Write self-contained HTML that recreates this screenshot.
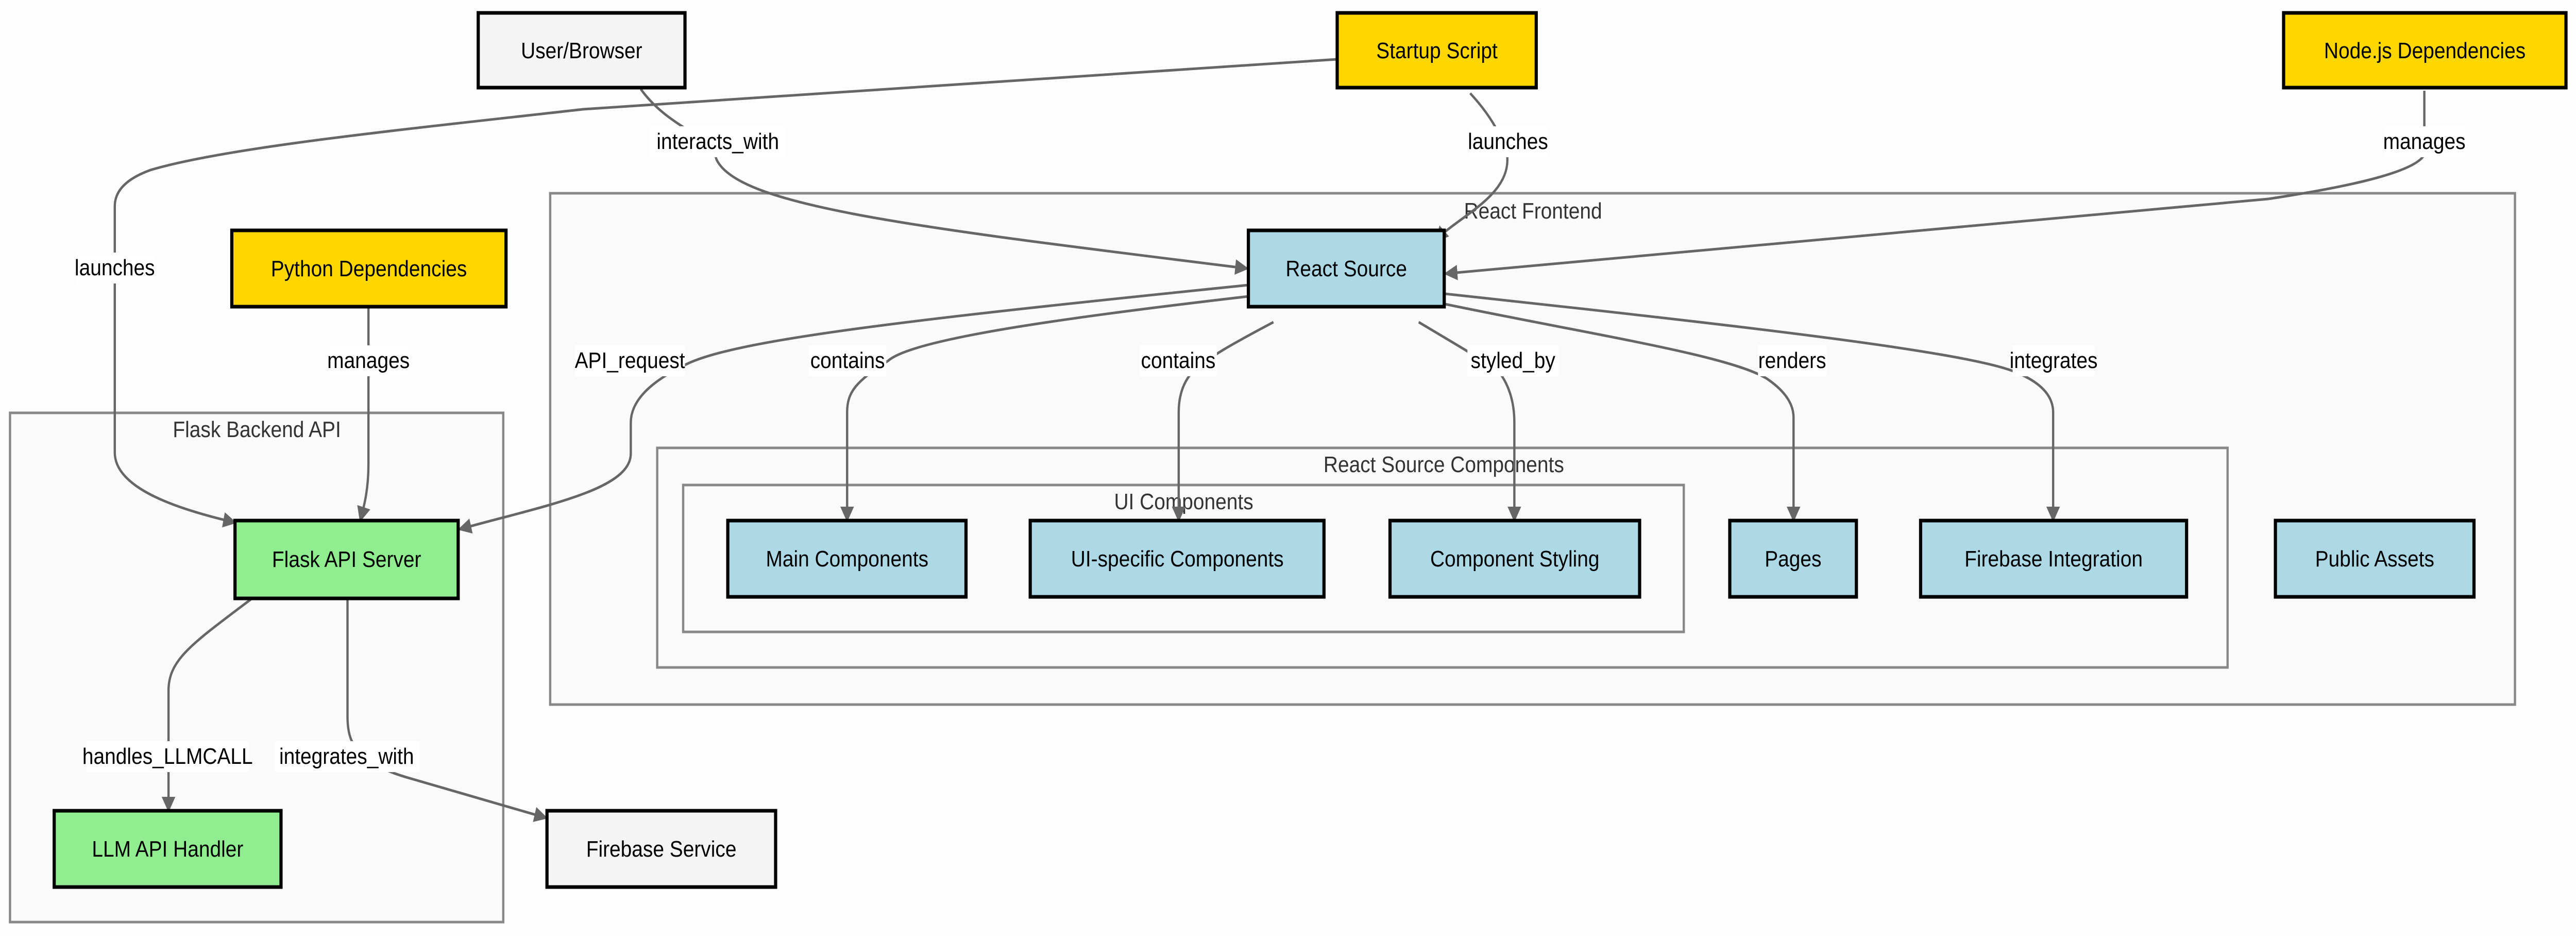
<!DOCTYPE html>
<html><head><meta charset="utf-8"><style>
html,body{margin:0;padding:0;background:#fdfdfd;width:100%;height:100%;overflow:hidden;}
svg{display:block;width:100vw;height:100vh;}
text{font-family:"Liberation Sans",sans-serif;font-size:44px;}
</style></head><body>
<svg viewBox="0 0 5656 1816" preserveAspectRatio="none" xmlns="http://www.w3.org/2000/svg">
<defs>
<marker id="a" viewBox="0 0 10 10" refX="9" refY="5" markerWidth="6" markerHeight="6" markerUnits="strokeWidth" orient="auto"><path d="M0,0 L10,5 L0,10 z" fill="#666"/></marker>
</defs>
<rect width="5656" height="1816" fill="#fdfdfd"/>
<rect x="1208" y="375" width="4314" height="992" fill="#fafafa" stroke="#888" stroke-width="5"/>
<rect x="1443" y="869" width="3448" height="426" fill="#fafafa" stroke="#888" stroke-width="5"/>
<rect x="1500" y="941" width="2197" height="285" fill="#fafafa" stroke="#888" stroke-width="5"/>
<rect x="22" y="801" width="1083" height="988" fill="#fafafa" stroke="#888" stroke-width="5"/>
<g fill="#333" text-anchor="middle">
<text x="3366" y="424">React Frontend</text>
<text x="3170" y="916">React Source Components</text>
<text x="2599" y="988">UI Components</text>
<text x="564" y="848">Flask Backend API</text>
</g>
<g fill="none" stroke="#666" stroke-width="5" marker-end="url(#a)">
<path d="M2936,115 L1280,212 C900,250 500,285 330,330 Q252,355 252,400 L252,878 C252,950 400,990 517,1014"/>
<path d="M1407,173 C1470,250 1560,260 1573,309 C1620,400 2000,440 2739,521"/>
<path d="M3228,181 Q3290,240 3309,300 C3320,380 3200,420 3152,467"/>
<path d="M5323,176 L5323,300 C5300,340 5100,370 4980,386 L3173,531"/>
<path d="M809,595 L809,900 C809,950 800,980 791,1010"/>
<path d="M2741,553 C2000,620 1600,660 1500,710 Q1385,760 1385,820 L1385,880 C1385,950 1200,980 1008,1027"/>
<path d="M2741,575 C2300,620 2000,660 1950,700 C1880,740 1860,760 1860,800 L1860,1010"/>
<path d="M2796,625 C2700,670 2660,690 2620,720 Q2588,750 2588,800 L2588,1010"/>
<path d="M3115,625 C3200,670 3240,690 3290,720 Q3325,760 3325,820 L3325,1010"/>
<path d="M3173,590 C3500,650 3800,690 3880,735 Q3938,770 3938,810 L3938,1010"/>
<path d="M3173,570 C3800,630 4300,680 4420,720 Q4508,750 4508,800 L4508,1010"/>
<path d="M552,1162 C420,1250 370,1280 370,1340 L370,1573"/>
<path d="M763,1162 L763,1390 C763,1440 780,1480 900,1510 L1200,1587"/>
</g>
<g text-anchor="middle" fill="#000">
<g fill="#fff">
<rect x="1426" y="245" width="300" height="60"/>
<rect x="3226" y="245" width="170" height="60"/>
<rect x="5236" y="245" width="175" height="60"/>
<rect x="167" y="490" width="170" height="60"/>
<rect x="722" y="670" width="175" height="60"/>
<rect x="1262" y="670" width="242" height="60"/>
<rect x="1776" y="670" width="170" height="60"/>
<rect x="2502" y="670" width="170" height="60"/>
<rect x="3222" y="670" width="200" height="60"/>
<rect x="3860" y="670" width="150" height="60"/>
<rect x="4419" y="670" width="180" height="60"/>
<rect x="190" y="1438" width="356" height="60"/>
<rect x="603" y="1438" width="318" height="60"/>
</g>
<text x="1576" y="289">interacts_with</text>
<text x="3311" y="289">launches</text>
<text x="5323" y="289">manages</text>
<text x="252" y="534">launches</text>
<text x="809" y="714">manages</text>
<text x="1383" y="714">API_request</text>
<text x="1861" y="714">contains</text>
<text x="2587" y="714">contains</text>
<text x="3322" y="714">styled_by</text>
<text x="3935" y="714">renders</text>
<text x="4509" y="714">integrates</text>
<text x="368" y="1482">handles_LLMCALL</text>
<text x="761" y="1482">integrates_with</text>
</g>
<g stroke="#000" stroke-width="7">
<rect x="1050" y="25" width="454" height="145" fill="#f4f4f4"/>
<rect x="2936" y="25" width="437" height="145" fill="#ffd700"/>
<rect x="5014" y="25" width="620" height="145" fill="#ffd700"/>
<rect x="509" y="447" width="602" height="148" fill="#ffd700"/>
<rect x="2741" y="447" width="430" height="148" fill="#add8e6"/>
<rect x="1598" y="1010" width="523" height="148" fill="#add8e6"/>
<rect x="2262" y="1010" width="645" height="148" fill="#add8e6"/>
<rect x="3052" y="1010" width="548" height="148" fill="#add8e6"/>
<rect x="3798" y="1010" width="278" height="148" fill="#add8e6"/>
<rect x="4217" y="1010" width="584" height="148" fill="#add8e6"/>
<rect x="4996" y="1010" width="436" height="148" fill="#add8e6"/>
<rect x="516" y="1010" width="490" height="151" fill="#90ee90"/>
<rect x="119" y="1573" width="498" height="148" fill="#90ee90"/>
<rect x="1201" y="1573" width="502" height="148" fill="#f4f4f4"/>
</g>
<g text-anchor="middle" fill="#000">
<text x="1277" y="113">User/Browser</text>
<text x="3155" y="113">Startup Script</text>
<text x="5324" y="113">Node.js Dependencies</text>
<text x="810" y="536">Python Dependencies</text>
<text x="2956" y="536">React Source</text>
<text x="1860" y="1099">Main Components</text>
<text x="2585" y="1099">UI-specific Components</text>
<text x="3326" y="1099">Component Styling</text>
<text x="3937" y="1099">Pages</text>
<text x="4509" y="1099">Firebase Integration</text>
<text x="5214" y="1099">Public Assets</text>
<text x="761" y="1100">Flask API Server</text>
<text x="368" y="1662">LLM API Handler</text>
<text x="1452" y="1662">Firebase Service</text>
</g>
</svg>
</body></html>
